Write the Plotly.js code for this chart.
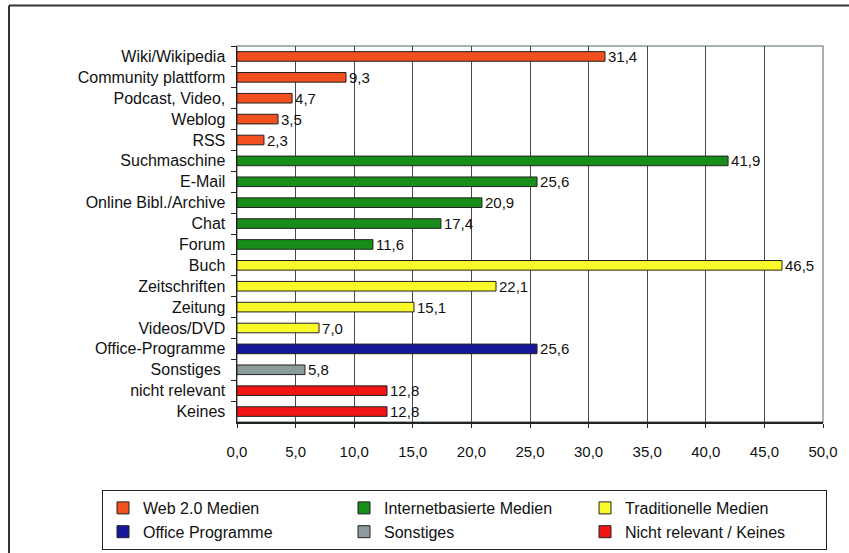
<!DOCTYPE html>
<html>
<head>
<meta charset="utf-8">
<script src="https://cdn.plot.ly/plotly-3.0.1.min.js"></script>
<style>html,body{margin:0;padding:0;background:#fff;overflow:hidden;}#chart{width:849px;height:553px;}</style>
</head>
<body>
<div id="chart"></div>
<script>
// ---- data ----
const categories = ["Wiki/Wikipedia","Community plattform","Podcast, Video,","Weblog","RSS",
  "Suchmaschine","E-Mail","Online Bibl./Archive","Chat","Forum",
  "Buch","Zeitschriften","Zeitung","Videos/DVD",
  "Office-Programme","Sonstiges\u00a0","nicht relevant","Keines"];

const groupNames = ["Web 2.0 Medien","Internetbasierte Medien","Traditionelle Medien",
  "Office Programme","Sonstiges","Nicht relevant / Keines"];

const web20Cats = ["Wiki/Wikipedia","Community plattform","Podcast, Video,","Weblog","RSS"];
const web20Vals = [31.4, 9.3, 4.7, 3.5, 2.3];

const internetCats = ["Suchmaschine","E-Mail","Online Bibl./Archive","Chat","Forum"];
const internetVals = [41.9, 25.6, 20.9, 17.4, 11.6];

const tradCats = ["Buch","Zeitschriften","Zeitung","Videos/DVD"];
const tradVals = [46.5, 22.1, 15.1, 7.0];

const officeCats = ["Office-Programme"];
const officeVals = [25.6];

const sonstCats = ["Sonstiges\u00a0"];
const sonstVals = [5.8];

const nichtCats = ["nicht relevant","Keines"];
const nichtVals = [12.8, 12.8];

const colors = ["#F2511F","#178E17","#FAFA2A","#16169A","#8C9C9C","#F01414"];

// ---- geometry (pixels) ----
const W = 849, H = 553;
const M = {l: 237, r: 26, t: 46, b: 131, autoexpand: false};
const pw = W - M.l - M.r, ph = H - M.t - M.b;
const px = x => (x - M.l) / pw;
const py = y => (H - M.b - y) / ph;

const groups = [[web20Cats, web20Vals],[internetCats, internetVals],[tradCats, tradVals],
  [officeCats, officeVals],[sonstCats, sonstVals],[nichtCats, nichtVals]];

const font = "Liberation Sans, Arial, sans-serif";

const traces = groups.map((g, i) => ({
  type: "bar",
  orientation: "h",
  name: groupNames[i],
  y: g[0],
  x: g[1],
  width: 0.46,
  marker: {color: colors[i], line: {color: "#222", width: 1}},
  texttemplate: "%{x:.1f}",
  textposition: "outside",
  constraintext: "none",
  cliponaxis: false,
  textfont: {family: font, size: 15, color: "#111"},
  hoverinfo: "x+y"
}));

const layout = {
  width: W, height: H,
  margin: M,
  separators: ", ",
  paper_bgcolor: "#fff",
  plot_bgcolor: "#fff",
  barmode: "overlay",
  showlegend: true,
  font: {family: font, color: "#111"},
  xaxis: {
    range: [0, 50], dtick: 5, tick0: 0, tickformat: ".1f",
    showgrid: true, gridcolor: "#4a4a4a", gridwidth: 1,
    showline: true, linecolor: "#222", linewidth: 1.5,
    ticks: "outside", ticklen: 4, tickcolor: "#222",
    ticklabelstandoff: 11,
    tickfont: {family: font, size: 15, color: "#111"},
    zeroline: false, fixedrange: true, automargin: false
  },
  yaxis: {
    type: "category",
    categoryorder: "array", categoryarray: categories,
    range: [categories.length - 0.5, -0.5],
    tickson: "boundaries",
    ticks: "outside", ticklen: 5, tickcolor: "#222",
    showline: true, linecolor: "#222", linewidth: 1.5,
    showgrid: false, zeroline: false,
    ticklabelstandoff: 7,
    tickfont: {family: font, size: 16, color: "#111"},
    fixedrange: true, automargin: false
  },
  legend: {
    orientation: "h",
    x: px(102), xanchor: "left",
    y: py(490), yanchor: "top",
    traceorder: "normal",
    entrywidth: 196, entrywidthmode: "pixels",
    font: {family: font, size: 16, color: "#111"},
    bordercolor: "#222", borderwidth: 1,
    bgcolor: "#fff"
  },
  shapes: [
    {type: "rect", xref: "paper", yref: "paper", x0: 0, x1: 1, y0: 0, y1: 1,
     line: {color: "#8a9a9a", width: 1.5}, layer: "below"},
    {type: "line", xref: "paper", yref: "paper",
     x0: px(9), x1: px(849), y0: py(5.5), y1: py(5.5),
     line: {color: "#333", width: 2}},
    {type: "line", xref: "paper", yref: "paper",
     x0: px(9), x1: px(9), y0: py(5.5), y1: py(553),
     line: {color: "#333", width: 2}}
  ]
};

Plotly.newPlot("chart", traces, layout, {displayModeBar: false, staticPlot: true});
</script>
</body>
</html>
